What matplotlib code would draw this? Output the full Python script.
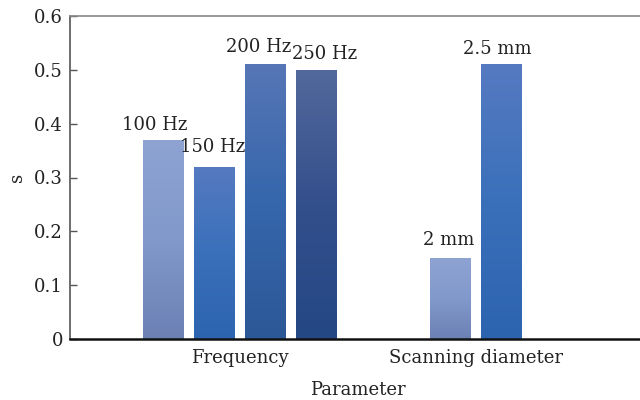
import matplotlib
matplotlib.use("Agg")
import matplotlib.pyplot as plt
import numpy as np
from matplotlib.colors import LinearSegmentedColormap

# Data
groups = ["Frequency", "Scanning diameter"]
bar_labels = ["100 Hz", "150 Hz", "200 Hz", "250 Hz", "2 mm", "2.5 mm"]
bar_values = [0.37, 0.32, 0.51, 0.50, 0.15, 0.51]
bar_group = [0, 0, 0, 0, 1, 1]
yticks = [0, 0.1, 0.2, 0.3, 0.4, 0.5, 0.6]
ytick_labels = ["0", "0.1", "0.2", "0.3", "0.4", "0.5", "0.6"]

# Styling
grad_top = ["#8ea3d2", "#557ac1", "#5676b6", "#53699c", "#8ea3d2", "#557ac1"]
grad_mid = ["#8199cb", "#3a70ba", "#3666ac", "#334f8c", "#8199cb", "#3a70ba"]
grad_bot = ["#6c80b4", "#2d64b0", "#2c5897", "#244884", "#6c80b4", "#2d64b0"]
# label offsets (dx, dy) in points
label_off = [(-6, 4), (-1, 8), (-5, 6), (6, 5), (-1, 7), (-3, 5)]
xpos = [0, 1, 2, 3, 5.63, 6.63]

plt.rcParams["font.family"] = "DejaVu Serif"
plt.rcParams["font.size"] = 13

fig = plt.figure(figsize=(6.4, 4.0), dpi=100)
ax = fig.add_axes([70 / 640, 1 - 339 / 400, 575 / 640, 323 / 400])

bars = ax.bar(xpos, bar_values, width=0.79, color="none", edgecolor="none", zorder=2)
for i, patch in enumerate(bars.patches):
    cmap = LinearSegmentedColormap.from_list(
        f"g{i}", [grad_bot[i], grad_mid[i], grad_top[i]])
    x0 = patch.get_x()
    w = patch.get_width()
    h = patch.get_height()
    grad = np.linspace(0, 1, 256).reshape(-1, 1)
    im = ax.imshow(grad, cmap=cmap, origin="lower", aspect="auto",
                   extent=[x0, x0 + w, 0, h], zorder=2, interpolation="bicubic")
    im.set_clip_path(patch)
    ax.annotate(bar_labels[i], (x0 + w / 2, h), xytext=label_off[i],
                textcoords="offset points", ha="center", va="bottom",
                fontsize=13, color="#222222")

ax.set_xlim(-1.83, 9.45)
ax.set_ylim(0, 0.6)
ax.set_yticks(yticks)
ax.set_yticklabels(ytick_labels)

centers = []
for g in range(len(groups)):
    xs = [xpos[i] for i in range(len(xpos)) if bar_group[i] == g]
    centers.append((min(xs) + max(xs)) / 2)
ax.set_xticks(centers)
ax.set_xticklabels(groups)
ax.tick_params(axis="x", length=0, pad=7, labelsize=13, colors="#222222")
ax.tick_params(axis="y", direction="in", length=5, width=1.0, pad=5,
               labelsize=13, colors="#555555", labelcolor="#222222")

ax.spines["right"].set_visible(False)
ax.spines["top"].set_color("#888888")
ax.spines["top"].set_linewidth(1.2)
ax.spines["left"].set_color("#555555")
ax.spines["left"].set_linewidth(1.2)
ax.spines["bottom"].set_color("#111111")
ax.spines["bottom"].set_linewidth(1.8)

ax.set_xlabel("Parameter", fontsize=13, color="#222222", labelpad=10)
ax.set_ylabel("s", fontsize=13, color="#222222", labelpad=6)

fig.savefig("out.png", dpi=100)
